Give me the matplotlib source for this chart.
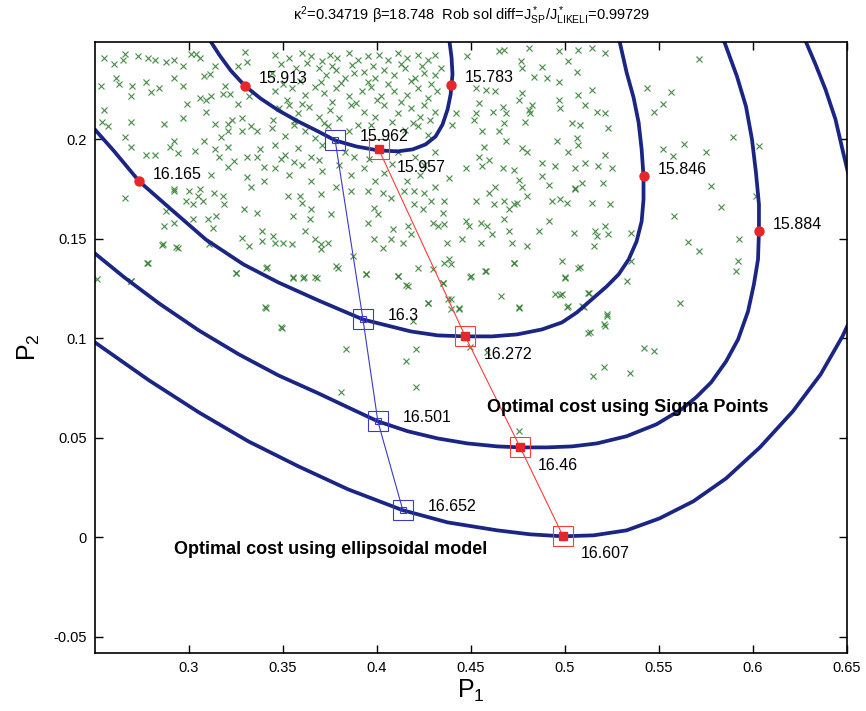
import matplotlib
matplotlib.use('Agg')
import matplotlib.pyplot as plt
import numpy as np

plt.rcParams['font.family'] = ['Liberation Sans', 'DejaVu Sans']
plt.rcParams['mathtext.fontset'] = 'custom'
plt.rcParams['mathtext.rm'] = 'Liberation Sans'
plt.rcParams['mathtext.it'] = 'Liberation Sans:italic'
plt.rcParams['mathtext.bf'] = 'Liberation Sans:bold'

# iso-cost curves (P1, P2)
c1_p1 = [0.3116, 0.3164, 0.3222, 0.3296, 0.3381, 0.3476, 0.3582, 0.3688, 0.3778, 0.3889, 0.4005,
         0.4111, 0.4190, 0.4259, 0.4312, 0.4349, 0.4376, 0.4392, 0.4402, 0.4397, 0.4386]
c1_p2 = [0.2492, 0.2422, 0.2347, 0.2271, 0.2206, 0.2146, 0.2090, 0.2040, 0.1995, 0.1965, 0.1945,
         0.1940, 0.1950, 0.1975, 0.2015, 0.2075, 0.2151, 0.2226, 0.2327, 0.2412, 0.2492]

c2_p1 = [0.250, 0.2603, 0.2736, 0.2894, 0.309, 0.329, 0.3476, 0.3688, 0.3926, 0.418, 0.4323, 0.447,
         0.4613, 0.4746, 0.4878, 0.4984, 0.5063, 0.5143, 0.5222, 0.5286, 0.5339, 0.5381, 0.5408, 0.5418,
         0.5418, 0.5408, 0.5392, 0.5365, 0.5328, 0.5291]
c2_p2 = [0.205, 0.194, 0.1789, 0.1658, 0.1497, 0.1372, 0.1281, 0.1191, 0.1095, 0.1035, 0.1015, 0.101,
         0.101, 0.102, 0.1045, 0.108, 0.113, 0.1196, 0.1261, 0.1322, 0.1397, 0.1487, 0.1588, 0.1698,
         0.1814, 0.195, 0.2085, 0.2211, 0.2337, 0.2492]

c3_p1 = [0.250, 0.2656, 0.2841, 0.3053, 0.3265, 0.3476, 0.3688, 0.3847, 0.4005, 0.4164, 0.4323, 0.4481,
         0.4640, 0.4762, 0.4905, 0.5038, 0.5170, 0.5328, 0.5487, 0.5619, 0.5698, 0.5778, 0.5857, 0.5921,
         0.5974, 0.6005, 0.6027, 0.6032, 0.6032, 0.6016, 0.5995, 0.5963, 0.5915, 0.5857, 0.5847]
c3_p2 = [0.1427, 0.1307, 0.1176, 0.1040, 0.0920, 0.0814, 0.0724, 0.0653, 0.0583, 0.0533, 0.0497, 0.0472,
         0.0457, 0.0452, 0.0452, 0.0457, 0.0472, 0.0508, 0.0568, 0.0643, 0.0704, 0.0779, 0.0884, 0.0995,
         0.1136, 0.1271, 0.1397, 0.1538, 0.1673, 0.1834, 0.2000, 0.2166, 0.2317, 0.2467, 0.2492]

c4_p1 = [0.250, 0.2788, 0.3053, 0.3317, 0.3582, 0.3847, 0.4138, 0.4376, 0.4640, 0.4815, 0.4989, 0.5153,
         0.5328, 0.5503, 0.5683, 0.5857, 0.6037, 0.6212, 0.6360, 0.6476, 0.6524]
c4_p2 = [0.098, 0.0789, 0.0628, 0.0482, 0.0357, 0.0241, 0.0136, 0.0075, 0.0035, 0.0015, 0.0005, 0.001,
         0.0035, 0.0095, 0.0181, 0.0296, 0.0452, 0.0633, 0.0819, 0.1010, 0.1106]

c5_p1 = [0.6281, 0.6333, 0.6386, 0.6439, 0.6476, 0.6508]
c5_p2 = [0.2492, 0.2377, 0.2251, 0.2101, 0.1950, 0.1824]

# labelled cost points on the contours
dot_p1 = [0.3296, 0.4392, 0.2736, 0.5418, 0.6032]
dot_p2 = [0.2271, 0.2276, 0.1789, 0.1814, 0.1538]
dot_cost = ['15.913', '15.783', '16.165', '15.846', '15.884']

# optimum path, sigma points
sp_p1 = [0.401, 0.447, 0.4762, 0.4989]
sp_p2 = [0.195, 0.101, 0.0452, 0.0008]
sp_cost = ['15.957', '16.272', '16.46', '16.607']

# optimum path, ellipsoidal model
el_p1 = [0.3778, 0.3926, 0.4005, 0.4138]
el_p2 = [0.1995, 0.1095, 0.0583, 0.0136]
el_cost = ['15.962', '16.3', '16.501', '16.652']

# Monte Carlo parameter samples
mc = [
    (0.255, 0.241), (0.260, 0.238), (0.265, 0.240), (0.266, 0.243), (0.273, 0.242), (0.278, 0.241),
    (0.282, 0.240), (0.288, 0.239), (0.292, 0.240), (0.297, 0.237), (0.301, 0.243), (0.304, 0.243),
    (0.306, 0.241), (0.308, 0.232), (0.311, 0.233), (0.314, 0.237), (0.326, 0.237), (0.331, 0.239),
    (0.330, 0.244), (0.253, 0.227), (0.261, 0.231), (0.263, 0.228), (0.270, 0.227), (0.269, 0.222),
    (0.277, 0.229), (0.280, 0.224), (0.284, 0.226), (0.292, 0.231), (0.297, 0.227), (0.299, 0.218),
    (0.306, 0.221), (0.309, 0.220), (0.312, 0.222), (0.319, 0.227), (0.318, 0.223), (0.322, 0.223),
    (0.326, 0.218), (0.332, 0.222), (0.255, 0.215), (0.254, 0.209), (0.257, 0.207), (0.269, 0.209),
    (0.266, 0.201), (0.287, 0.208), (0.297, 0.211), (0.309, 0.214), (0.314, 0.208), (0.321, 0.208),
    (0.323, 0.210), (0.328, 0.211), (0.333, 0.207), (0.336, 0.204), (0.328, 0.204), (0.321, 0.204),
    (0.317, 0.201), (0.308, 0.199), (0.292, 0.199), (0.290, 0.196), (0.294, 0.193), (0.303, 0.194),
    (0.269, 0.196), (0.277, 0.192), (0.282, 0.192), (0.314, 0.195), (0.321, 0.196), (0.316, 0.191),
    (0.324, 0.189), (0.321, 0.186), (0.331, 0.191), (0.336, 0.191), (0.338, 0.195), (0.340, 0.186),
    (0.312, 0.182), (0.306, 0.175), (0.292, 0.175), (0.331, 0.181), (0.333, 0.176), (0.340, 0.179),
    (0.346, 0.2425), (0.353, 0.2408), (0.360, 0.2433), (0.365, 0.2417), (0.371, 0.2392), (0.375, 0.2425),
    (0.379, 0.2408), (0.385, 0.2433), (0.390, 0.2400), (0.395, 0.2417), (0.401, 0.2425), (0.406, 0.2400),
    (0.411, 0.2433), (0.416, 0.2408), (0.422, 0.2425), (0.427, 0.2400), (0.431, 0.2425),
    (0.344, 0.2333), (0.369, 0.2358), (0.373, 0.2325), (0.378, 0.2350), (0.383, 0.2308), (0.388, 0.2333),
    (0.393, 0.2341), (0.399, 0.2308), (0.404, 0.2350), (0.409, 0.2325), (0.415, 0.2358), (0.420, 0.2308),
    (0.425, 0.2333), (0.431, 0.2325),
    (0.346, 0.2241), (0.355, 0.2257), (0.362, 0.2224), (0.367, 0.2266), (0.372, 0.2232), (0.378, 0.2257),
    (0.385, 0.2216), (0.392, 0.2241), (0.397, 0.2266), (0.402, 0.2216), (0.409, 0.2241), (0.416, 0.2224),
    (0.422, 0.2257), (0.427, 0.2207), (0.432, 0.2241),
    (0.348, 0.2157), (0.353, 0.2174), (0.358, 0.2132), (0.364, 0.2165), (0.369, 0.2115), (0.375, 0.2149),
    (0.380, 0.2107), (0.386, 0.2174), (0.393, 0.2140), (0.399, 0.2115), (0.404, 0.2174), (0.411, 0.2132),
    (0.418, 0.2157), (0.423, 0.2115), (0.431, 0.2140),
    (0.344, 0.2056), (0.351, 0.2015), (0.356, 0.2073), (0.362, 0.2040), (0.367, 0.2006), (0.374, 0.2065),
    (0.385, 0.2040), (0.390, 0.2073), (0.415, 0.2048), (0.422, 0.2065), (0.427, 0.2023),
    (0.346, 0.1973), (0.351, 0.1922), (0.358, 0.1956), (0.365, 0.1914), (0.371, 0.1973), (0.383, 0.1939),
    (0.388, 0.1914), (0.411, 0.1939), (0.420, 0.1914), (0.431, 0.1939),
    (0.346, 0.1855), (0.353, 0.1822), (0.360, 0.1872), (0.365, 0.1789), (0.371, 0.1839), (0.378, 0.1763),
    (0.386, 0.1822), (0.393, 0.1855), (0.399, 0.1789), (0.404, 0.1830), (0.416, 0.1789), (0.423, 0.1822),
    (0.431, 0.1763),
    (0.349, 0.238), (0.357, 0.236), (0.363, 0.2385), (0.376, 0.237), (0.387, 0.2375), (0.398, 0.237),
    (0.413, 0.238), (0.424, 0.237), (0.434, 0.236), (0.350, 0.228), (0.359, 0.2295), (0.370, 0.229),
    (0.381, 0.2285), (0.395, 0.229), (0.406, 0.228), (0.418, 0.2295), (0.429, 0.228), (0.352, 0.220),
    (0.360, 0.218), (0.376, 0.219), (0.389, 0.2185), (0.400, 0.220), (0.413, 0.219), (0.425, 0.2175),
    (0.345, 0.210), (0.356, 0.2095), (0.372, 0.2085), (0.397, 0.2075), (0.408, 0.209), (0.419, 0.2085),
    (0.428, 0.210), (0.349, 0.190), (0.356, 0.1885), (0.369, 0.1895), (0.380, 0.187), (0.396, 0.190),
    (0.408, 0.1875), (0.425, 0.187),
    (0.448, 0.2417), (0.465, 0.2442), (0.4675, 0.2450), (0.4808, 0.2459), (0.4966, 0.2442), (0.5072, 0.2450),
    (0.5143, 0.2459), (0.5213, 0.2433), (0.4764, 0.2392), (0.4772, 0.2358), (0.4878, 0.2366), (0.5019, 0.2392),
    (0.5063, 0.2341), (0.4966, 0.2291), (0.4834, 0.2316), (0.4905, 0.2308), (0.5143, 0.2249), (0.5072, 0.2224),
    (0.4966, 0.2199), (0.4975, 0.2157), (0.4525, 0.2257), (0.458, 0.2249), (0.463, 0.2241), (0.4772, 0.2232),
    (0.4755, 0.2199), (0.4825, 0.2174), (0.4543, 0.2182), (0.4525, 0.2132), (0.4517, 0.2098), (0.462, 0.2140),
    (0.467, 0.2165), (0.4684, 0.2132), (0.4675, 0.2082), (0.4808, 0.2149), (0.4816, 0.2132), (0.479, 0.2090),
    (0.5108, 0.2174), (0.517, 0.2140), (0.5213, 0.2132), (0.5037, 0.2082), (0.5081, 0.2073), (0.523, 0.2056),
    (0.4402, 0.2073), (0.4420, 0.2132), (0.456, 0.2040), (0.465, 0.2040), (0.4684, 0.1990), (0.4772, 0.1956),
    (0.4799, 0.1939), (0.457, 0.1964), (0.4543, 0.1914), (0.4596, 0.1897), (0.456, 0.1864), (0.4472, 0.1855),
    (0.4384, 0.1805), (0.4958, 0.1990), (0.5019, 0.1939), (0.5063, 0.2006), (0.5072, 0.1973), (0.5213, 0.1922),
    (0.4878, 0.1881), (0.4949, 0.1864), (0.5055, 0.1855), (0.5108, 0.1881), (0.5178, 0.1864), (0.5249, 0.1855),
    (0.467, 0.1855), (0.473, 0.1847), (0.4755, 0.1797), (0.463, 0.1763), (0.4878, 0.1814), (0.4913, 0.1772),
    (0.509, 0.1780), (0.5204, 0.1780), (0.5055, 0.1755), (0.4772, 0.1763),
    (0.2659, 0.1707), (0.2923, 0.1741), (0.3003, 0.1741), (0.3047, 0.1716), (0.2985, 0.1690), (0.3020, 0.1674),
    (0.3073, 0.1690), (0.3135, 0.1732), (0.3179, 0.1716), (0.3188, 0.1674), (0.3294, 0.1649), (0.3364, 0.1632),
    (0.2879, 0.1640), (0.2870, 0.1565), (0.2923, 0.1582), (0.3020, 0.1598), (0.3100, 0.1598), (0.3144, 0.1615),
    (0.3126, 0.1556), (0.2862, 0.1473), (0.2941, 0.1456), (0.2782, 0.1381), (0.2694, 0.1288), (0.2509, 0.1297),
    (0.3109, 0.1473), (0.3250, 0.1330), (0.3285, 0.1506), (0.3320, 0.1464), (0.3391, 0.1540), (0.3391, 0.1489),
    (0.3408, 0.1355), (0.3408, 0.1154),
    (0.3529, 0.1716), (0.359, 0.1716), (0.3599, 0.1682), (0.3705, 0.1724), (0.3864, 0.1741), (0.3952, 0.1741),
    (0.4032, 0.1732), (0.4076, 0.1707), (0.4146, 0.1741), (0.4199, 0.1741), (0.4252, 0.1732), (0.4287, 0.1690),
    (0.3652, 0.1649), (0.3758, 0.1623), (0.3987, 0.1657), (0.4005, 0.1623), (0.4199, 0.1674), (0.4243, 0.1649),
    (0.4296, 0.1582), (0.4323, 0.1565), (0.3555, 0.1615), (0.3643, 0.1598), (0.3617, 0.1540), (0.3449, 0.1515),
    (0.3458, 0.1481), (0.3502, 0.1481), (0.3546, 0.1473), (0.3670, 0.1498), (0.3705, 0.1473), (0.3741, 0.1481),
    (0.3705, 0.1448), (0.3952, 0.1582), (0.4085, 0.1548), (0.4076, 0.1498), (0.3987, 0.1498), (0.4032, 0.1456),
    (0.4137, 0.1481), (0.4182, 0.1523), (0.4164, 0.1565), (0.3873, 0.1414), (0.3793, 0.1355), (0.3555, 0.1305),
    (0.3608, 0.1305), (0.3679, 0.1305), (0.3943, 0.1322), (0.4111, 0.1313), (0.4164, 0.1263), (0.4217, 0.1355),
    (0.4296, 0.1347), (0.4270, 0.1180), (0.4190, 0.1087), (0.3494, 0.1054),
    (0.4358, 0.1690), (0.4525, 0.1690), (0.4596, 0.1732), (0.4622, 0.1674), (0.4675, 0.1690), (0.4702, 0.1649),
    (0.4728, 0.1674), (0.4746, 0.1682), (0.4799, 0.1716), (0.4931, 0.1690), (0.4975, 0.1699), (0.5010, 0.1682),
    (0.5055, 0.1749), (0.5143, 0.1682), (0.5240, 0.1674), (0.4349, 0.1632), (0.4358, 0.1573), (0.4472, 0.1590),
    (0.4490, 0.1565), (0.4552, 0.1582), (0.4587, 0.1565), (0.4614, 0.1523), (0.4675, 0.1598), (0.4702, 0.1540),
    (0.4719, 0.1481), (0.4799, 0.1464), (0.4375, 0.1481), (0.4455, 0.1498), (0.4552, 0.1481), (0.4913, 0.1590),
    (0.4861, 0.1540), (0.5046, 0.1531), (0.5160, 0.1540), (0.5169, 0.1515), (0.5213, 0.1565), (0.5231, 0.1523),
    (0.5152, 0.1464), (0.5354, 0.1531), (0.4384, 0.1397), (0.4393, 0.1372), (0.4358, 0.1380), (0.4499, 0.1313),
    (0.4578, 0.1339), (0.4728, 0.1380), (0.4984, 0.1389), (0.5072, 0.1355), (0.5002, 0.1305), (0.5354, 0.1389),
    (0.5328, 0.1288), (0.4349, 0.1280), (0.4393, 0.1196), (0.4437, 0.1154), (0.4658, 0.1213), (0.4755, 0.1154),
    (0.4949, 0.1221), (0.4984, 0.1221), (0.5019, 0.1163), (0.5090, 0.1163), (0.5125, 0.1230), (0.5222, 0.1113),
    (0.5213, 0.1062), (0.5125, 0.1029),
    (0.5715, 0.2402), (0.5434, 0.2261), (0.5566, 0.2236), (0.5524, 0.2176), (0.5476, 0.2136), (0.5894, 0.2010),
    (0.5635, 0.1975), (0.5524, 0.1950), (0.5751, 0.1935), (0.5577, 0.1915), (0.6032, 0.1965), (0.5778, 0.1764),
    (0.583, 0.1658), (0.5582, 0.1613), (0.6016, 0.1714), (0.5656, 0.1482), (0.5926, 0.1497), (0.5715, 0.1437),
    (0.561, 0.118), (0.5418, 0.095), (0.5476, 0.0935), (0.515, 0.081), (0.5206, 0.0854), (0.5344, 0.0824),
    (0.5132, 0.103), (0.521, 0.107), (0.5222, 0.112), (0.4974, 0.122), (0.501, 0.116), (0.510, 0.116),
    (0.5127, 0.123), (0.4757, 0.1156), (0.4587, 0.093), (0.4497, 0.0955), (0.4757, 0.0533), (0.591, 0.1337),
    (0.592, 0.1387), (0.4497, 0.131), (0.4577, 0.1337), (0.473, 0.138), (0.508, 0.1357), (0.500, 0.1307),
    (0.4349, 0.128), (0.4437, 0.1146),
    (0.2857, 0.147), (0.293, 0.146), (0.2778, 0.138), (0.2487, 0.1296), (0.2693, 0.1286), (0.3249, 0.133),
    (0.3413, 0.1357), (0.3407, 0.1156), (0.349, 0.1055), (0.3556, 0.1307), (0.361, 0.1307), (0.3672, 0.1307),
    (0.3783, 0.1362), (0.3942, 0.1322), (0.3836, 0.0945), (0.381, 0.0729), (0.4111, 0.1312), (0.4153, 0.127),
    (0.4206, 0.0754), (0.4153, 0.0884), (0.4206, 0.0945), (0.427, 0.118), (0.4376, 0.1196), (0.4392, 0.1146),
]
mc = np.array(mc)

fig = plt.figure(figsize=(8.66, 7.11), dpi=100)
ax = fig.add_axes([0.110, 0.082, 0.868, 0.859])

ax.plot(mc[:, 0], mc[:, 1], 'x', color='#2f7d2f', ms=4.8, mew=0.85, alpha=0.85, zorder=1)

navy = '#1b2584'
for px, py in [(c1_p1, c1_p2), (c2_p1, c2_p2), (c3_p1, c3_p2), (c4_p1, c4_p2), (c5_p1, c5_p2)]:
    ax.plot(px, py, '-', color=navy, lw=2.7, solid_joinstyle='round', solid_capstyle='round', zorder=2)

ax.plot(dot_p1, dot_p2, 'o', color='#e8262a', ms=6.5, zorder=4)
for x, y, s in zip(dot_p1, dot_p2, dot_cost):
    ax.annotate(s, (x, y), xytext=(10, 5), textcoords='offset points', fontsize=11.5, va='center')

# sigma point path
ax.plot(sp_p1, sp_p2, '-', color='#ff3b3b', lw=0.8, zorder=3)
ax.plot(sp_p1, sp_p2, 's', mfc='none', mec='#ff3b3b', ms=15, mew=0.8, zorder=3)
ax.plot(sp_p1, sp_p2, 's', color='#e8262a', ms=5.5, zorder=4)
for x, y, s in zip(sp_p1, sp_p2, sp_cost):
    ax.annotate(s, (x, y), xytext=(13, -13), textcoords='offset points', fontsize=11.5, va='center')

# ellipsoidal model path
ax.plot(el_p1, el_p2, '-', color='#3a3ac8', lw=0.8, zorder=3)
ax.plot(el_p1, el_p2, 's', mfc='none', mec='#3a3ac8', ms=15, mew=0.8, zorder=3)
ax.plot(el_p1, el_p2, 's', mfc='none', mec='#3a3ac8', ms=5, mew=0.8, zorder=3)
for x, y, s in zip(el_p1, el_p2, el_cost):
    ax.annotate(s, (x, y), xytext=(18, 3), textcoords='offset points', fontsize=11.5, va='center')

ax.text(0.4587, 0.0653, 'Optimal cost using Sigma Points', fontsize=13, fontweight='bold', va='center')
ax.text(0.292, -0.006, 'Optimal cost using ellipsoidal model', fontsize=13, fontweight='bold', va='center')

ax.set_xlim(0.2502, 0.65)
ax.set_ylim(-0.058, 0.249)
ax.set_xticks([0.3, 0.35, 0.4, 0.45, 0.5, 0.55, 0.6, 0.65])
ax.set_xticklabels(['0.3', '0.35', '0.4', '0.45', '0.5', '0.55', '0.6', '0.65'])
ax.set_yticks([-0.05, 0, 0.05, 0.1, 0.15, 0.2])
ax.set_yticklabels(['-0.05', '0', '0.05', '0.1', '0.15', '0.2'])
ax.tick_params(direction='in', length=6, width=1, top=True, right=True, labelsize=10.5, pad=6)
for sp in ax.spines.values():
    sp.set_linewidth(1.2)

ax.set_xlabel(r'$\mathrm{P}_1$', fontsize=18, labelpad=2)
ax.set_ylabel(r'$\mathrm{P}_2$', fontsize=18, labelpad=8)
ax.set_title('κ$^2$=0.34719 β=18.748  Rob sol diff=J$^*_{\\mathrm{SP}}$/J$^*_{\\mathrm{LIKELI}}$=0.99729',
             fontsize=10.5, pad=16)

fig.savefig('out.png', dpi=100)
